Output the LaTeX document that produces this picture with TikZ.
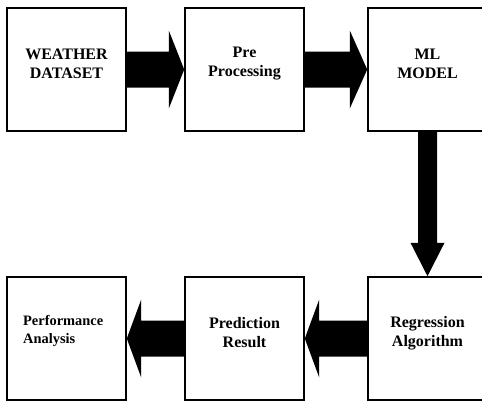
\documentclass[tikz,border=0pt]{standalone}
\usepackage{fontspec}
\setmainfont{Liberation Serif}
\usetikzlibrary{calc}
\begin{document}
\begin{tikzpicture}[x=1pt,y=-1pt,
  blockbox/.style={draw=black,line width=1.6pt,minimum width=119pt,minimum height=123pt,inner sep=0pt},
  boxtxt/.style={font=\bfseries\fontsize{16}{19}\selectfont,align=center,inner sep=0pt},
  smalltxt/.style={font=\bfseries\fontsize{14.4}{18}\selectfont,align=left,inner sep=0pt},
  bigarrow/.style={fill=black,draw=none}]
\useasboundingbox (0,0) rectangle (482,402);
\clip (0,0) rectangle (482,402);
% boxes
\node[blockbox] (b1) at (66.5,69.5) {};
\node[blockbox] (b2) at (244.5,69.5) {};
\node[blockbox] (b3) at (427.5,69.5) {};
\node[blockbox] (b4) at (66.5,338.5) {};
\node[blockbox] (b5) at (244.5,338.5) {};
\node[blockbox] (b6) at (427.5,338.5) {};
% texts
\node[boxtxt] (t1) at (66.5,64) {WEATHER\\DATASET};
\node[boxtxt] (t2) at (244.5,64) {Pre\\Processing};
\node[boxtxt] (t3) at (427.5,64) {ML\\MODEL};
\node[smalltxt,anchor=west] (t4) at (23,331) {Performance\\Analysis};
\node[boxtxt] (t5) at (244.5,333) {Prediction\\Result};
\node[boxtxt] (t6) at (427.5,333) {Regression\\Algorithm};
% arrow b1 -> b2
\fill[bigarrow] ($(b1.east)+(0,-18)$) -- ++(42,0) -- ++(0,-21) -- (b2.west)
  -- ($(b1.east)+(42,39)$) -- ++(0,-21) -- ++(-42,0) -- cycle;
% arrow b2 -> b3
\fill[bigarrow] ($(b2.east)+(0,-18)$) -- ++(45,0) -- ++(0,-21) -- (b3.west)
  -- ($(b2.east)+(45,39)$) -- ++(0,-21) -- ++(-45,0) -- cycle;
% arrow b3 -> b6 (down)
\fill[bigarrow] ($(b3.south)+(-9.5,0)$) -- ++(0,111) -- ++(-7.5,0) -- (b6.north)
  -- ($(b3.south)+(17,111)$) -- ++(-7.5,0) -- ++(0,-111) -- cycle;
% arrow b6 -> b5 (left)
\fill[bigarrow] ($(b6.west)+(0,-18)$) -- ++(-48,0) -- ++(0,-21) -- (b5.east)
  -- ($(b6.west)+(-48,39)$) -- ++(0,-21) -- ++(48,0) -- cycle;
% arrow b5 -> b4 (left)
\fill[bigarrow] ($(b5.west)+(0,-18)$) -- ++(-43,0) -- ++(0,-21) -- (b4.east)
  -- ($(b5.west)+(-43,39)$) -- ++(0,-21) -- ++(43,0) -- cycle;
\end{tikzpicture}
\end{document}
